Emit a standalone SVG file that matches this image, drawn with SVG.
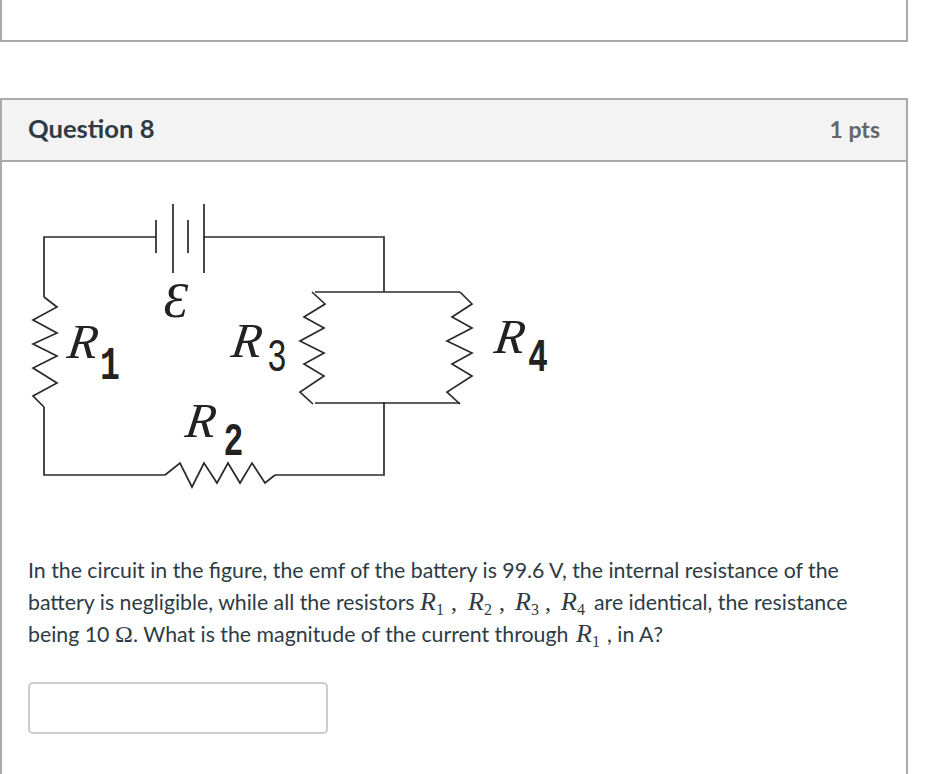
<svg xmlns="http://www.w3.org/2000/svg" width="942" height="774" viewBox="0 0 942 774">
<style>
.panel{fill:#fff;stroke:#aaa;stroke-width:2}
.t{font-family:Lato,"Noto Sans",sans-serif;font-size:21.3px;fill:#2d3b45}
.h{font-family:Lato,"Noto Sans",sans-serif;font-weight:700}
.m{font-family:"Liberation Serif",serif;font-style:italic;font-size:26px;fill:#2d3b45}
.s{font-family:"Liberation Serif",serif;font-size:16px;fill:#2d3b45}
.c{font-family:"Liberation Serif",serif;font-size:24px;fill:#2d3b45}
.w{fill:none;stroke:#2a2a2a;stroke-width:1.700}
.R{font-family:"Liberation Serif",serif;font-style:italic;font-size:49px;fill:#222}
.n{font-family:"Liberation Mono",monospace;font-weight:700;font-size:46px;fill:#222;text-anchor:middle}
</style>
<rect width="942" height="774" fill="#fff"/>
<path class="panel" d="M1,-2V41H907V-2"/>
<path class="panel" d="M1,780V99H907V780"/>
<rect x="2" y="100" width="904" height="60" fill="#f3f3f3"/>
<path d="M1,161H907" stroke="#aaa" stroke-width="2"/>
<text class="h" x="28" y="138" font-size="25.600" fill="#2d3b45">Question 8</text>
<text class="h" x="880" y="138" font-size="23" fill="#666" text-anchor="end">1 pts</text>
<g id="connectors">
<path class="w" d="M156,237H44V297M44,407V475H165M203,237H384V292M275,475H384V402M315,292H460M315,403H460"/>
</g>
<g id="battery">
<path class="w" d="M156,220V253M173,204V273M188,220V253M204,204V273"/>
<text x="176" y="317" font-family="'Liberation Serif',serif" font-style="italic" font-size="50" fill="#222" text-anchor="middle">Ɛ</text>
</g>
<g id="R1">
<path class="w" d="M44,297L57,307L33,320L57,333L33,344L57,356L33,368L57,383L33,396L44,407"/>
<text class="R" transform="translate(66,358) skewX(-8)">R</text><text class="n" transform="translate(110,379) scale(.72,1)">1</text>
</g>
<g id="R2">
<path class="w" d="M165,475L180,463L192,487L204,463L217,483L228,463L240,483L252,463L265,483L275,475"/>
<text class="R" transform="translate(184,437) skewX(-8)">R</text><text class="n" transform="translate(233.500,455) scale(.72,1)">2</text>
</g>
<g id="R3">
<path class="w" d="M312,292L325,304L304,317L324,328L300,341L324,353L304,364L324,376L300,392L313,404"/>
<text class="R" transform="translate(230,357) skewX(-8)">R</text><text class="n" transform="translate(277,371) scale(.72,1)" style="font-weight:400">3</text>
</g>
<g id="R4">
<path class="w" d="M460,292L472,304L452,317L472,328L447,341L472,353L452,364L472,376L447,392L460,404"/>
<text class="R" transform="translate(493,353) skewX(-8)">R</text><text class="n" transform="translate(538,371) scale(.72,1)">4</text>
</g>
<text class="t" x="28" y="578">In the circuit in the figure, the emf of the battery is 99.6 V, the internal resistance of the</text>
<text class="t" x="28" y="610">battery is negligible, while all the resistors</text>
<text class="m" x="420" y="610">R</text><text class="s" x="436" y="615">1</text><text class="c" x="451" y="610">,</text>
<text class="m" x="468" y="610">R</text><text class="s" x="484" y="615">2</text><text class="c" x="499" y="610">,</text>
<text class="m" x="515" y="610">R</text><text class="s" x="531" y="615">3</text><text class="c" x="545" y="610">,</text>
<text class="m" x="561" y="610">R</text><text class="s" x="577" y="615">4</text>
<text class="t" x="594" y="610">are identical, the resistance</text>
<text class="t" x="28" y="642">being 10</text>
<text class="c" x="115" y="642">Ω</text>
<text class="t" x="133" y="642">. What is the magnitude of the current through</text>
<text class="m" x="576" y="642">R</text><text class="s" x="592" y="647">1</text>
<text class="t" x="607" y="642">, in A?</text>
<rect x="29" y="683" width="298" height="50" rx="4" fill="#fff" stroke="#ccc" stroke-width="2"/>
</svg>
